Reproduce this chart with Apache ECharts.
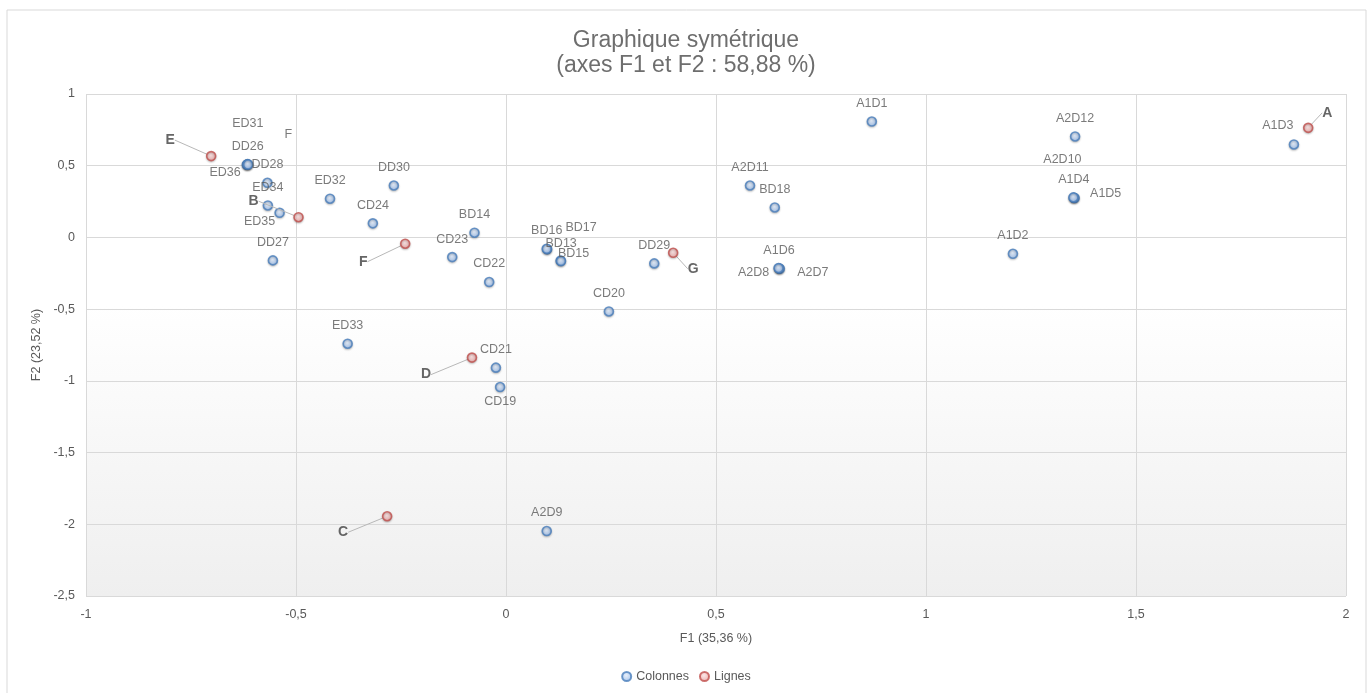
<!DOCTYPE html>
<html><head><meta charset="utf-8">
<script src="https://cdn.jsdelivr.net/npm/echarts@6/dist/echarts.min.js"></script>
<style>html,body{margin:0;padding:0;background:#fff}#c{width:1372px;height:693px}</style>
</head><body><div id="c"></div>
<script>
// Colonnes (blue)
const colNames = ['A1D1','A1D2','A1D3','A1D4','A1D5','A1D6','A2D7','A2D8','A2D9','A2D10','A2D11','A2D12','BD13','BD14','BD15','BD16','BD17','BD18','CD19','CD20','CD21','CD22','CD23','CD24','F','DD26','DD27','DD28','DD29','DD30','ED31','ED32','ED33','ED34','ED35','ED36'];
const colX = [0.871,1.207,1.876,1.352,1.354,0.650,0.652,0.649,0.097,1.351,0.581,1.355,0.098,-0.075,0.130,0.097,0.131,0.640,-0.014,0.245,-0.024,-0.040,-0.128,-0.317,-0.616,-0.615,-0.555,-0.568,0.353,-0.267,-0.617,-0.419,-0.377,-0.567,-0.539,-0.614];
const colY = [0.808,-0.114,0.648,0.277,0.275,-0.216,-0.218,-0.214,-2.047,0.279,0.362,0.704,-0.083,0.033,-0.162,-0.079,-0.165,0.209,-1.043,-0.516,-0.908,-0.311,-0.137,0.098,0.509,0.511,-0.160,0.381,-0.181,0.362,0.507,0.270,-0.741,0.223,0.172,0.508];
// Lignes (red)
const rowNames = ['A','B','C','D','E','F','G'];
const rowX = [1.910,-0.494,-0.283,-0.081,-0.702,-0.240,0.398];
const rowY = [0.764,0.141,-1.944,-0.838,0.567,-0.044,-0.107];
// Axis ticks
const xMin = -1, xMax = 2, xStep = 0.5;
const yMin = -2.5, yMax = 1, yStep = 0.5;

// label placement (style, not data)
const colLabelOff = {ED31:[1,-41],F:[41,-30],ED36:[-23,8],ED35:[-20,9],BD13:[14,-6],BD17:[20,-34],BD15:[13,-7],A2D10:[-11,-38],A1D5:[31,-4],A1D3:[-16,-19],A2D8:[-25,4],A2D7:[33,4],CD19:[0,15]};
const rowLabelOff = {A:[19,-15],B:[-45,-16],C:[-44,16],D:[-46,17],E:[-41,-16],F:[-42,18],G:[20,16]};

const fmt = v => String(v).replace('.', ',');
const colData = colNames.map((n,i) => ({name:n, value:[colX[i], colY[i]], label:{offset: colLabelOff[n] || [0,-18]}}));
const rowData = rowNames.map((n,i) => ({name:n, value:[rowX[i], rowY[i]]}));

const chart = echarts.init(document.getElementById('c'));
const txt = '#595959';
const blueFill = {type:'radial', x:0.45, y:0.4, r:0.6, colorStops:[{offset:0,color:'#e2ecfa'},{offset:1,color:'#8fb4e6'}]};
const redFill = {type:'radial', x:0.45, y:0.4, r:0.6, colorStops:[{offset:0,color:'#fbe0e0'},{offset:1,color:'#e69c9b'}]};
chart.setOption({
  animation: false,
  textStyle: {fontFamily: 'Liberation Sans, Arial, sans-serif'},
  graphic: [{type:'rect', shape:{x:7, y:10, width:1359, height:700}, style:{fill:'none', stroke:'#d9d9d9', lineWidth:1}, z:-10}],
  title: {text: 'Graphique symétrique\n(axes F1 et F2 : 58,88 %)', left: 'center', top: 23,
    textStyle: {color: '#6e6e6e', fontSize: 23, fontWeight: 'normal', lineHeight: 25, fontFamily: 'Liberation Sans, Arial, sans-serif'}},
  legend: {bottom: 5, left: 'center', icon: 'circle', itemWidth: 9, itemHeight: 9, itemGap: 10,
    textStyle: {color: txt, fontSize: 12.5}, data: ['Colonnes','Lignes']},
  grid: {left: 86, right: 26, top: 94, bottom: 97, show: true, borderWidth: 0,
    backgroundColor: new echarts.graphic.LinearGradient(0,0,0,1,[{offset:0,color:'#ffffff'},{offset:0.42,color:'#ffffff'},{offset:1,color:'#efefef'}])},
  xAxis: {type:'value', min:xMin, max:xMax, interval:xStep,
    name:'F1 (35,36 %)', nameLocation:'middle', nameGap:36, nameTextStyle:{color:txt, fontSize:12.5},
    axisLine:{show:false}, axisTick:{show:false},
    axisLabel:{color:txt, fontSize:12.5, margin:12, formatter:fmt},
    splitLine:{show:true, lineStyle:{color:'#d9d9d9', width:1}}},
  yAxis: {type:'value', min:yMin, max:yMax, interval:yStep,
    name:'F2 (23,52 %)', nameLocation:'middle', nameGap:40, nameTextStyle:{color:txt, fontSize:12.5},
    axisLine:{show:false}, axisTick:{show:false},
    axisLabel:{color:txt, fontSize:12.5, margin:11, formatter:fmt},
    splitLine:{show:true, lineStyle:{color:'#d9d9d9', width:1}}},
  series: [
    {name:'Colonnes', type:'scatter', symbolSize:9, data: colData,
      itemStyle:{color:blueFill, borderColor:'#4a7ebb', borderWidth:1.6, shadowBlur:2, shadowColor:'rgba(0,0,0,0.25)', shadowOffsetY:1},
      label:{show:true, position:'inside', formatter:'{b}', color:txt, fontSize:12.5},
      emphasis:{disabled:true}},
    {name:'Lignes', type:'scatter', symbolSize:9, data: rowData, z:3,
      itemStyle:{color:redFill, borderColor:'#c0504d', borderWidth:1.6, shadowBlur:2, shadowColor:'rgba(0,0,0,0.25)', shadowOffsetY:1},
      label:{show:true, position:'inside', formatter:'{b}', color:'#404040', fontSize:14, fontWeight:'bold'},
      labelLayout: p => { const o = rowLabelOff[rowNames[p.dataIndex]]; return {dx:o[0], dy:o[1]}; },
      labelLine:{show:true, lineStyle:{color:'#b8b8b8', width:1}},
      emphasis:{disabled:true}}
  ]
});
</script></body></html>
